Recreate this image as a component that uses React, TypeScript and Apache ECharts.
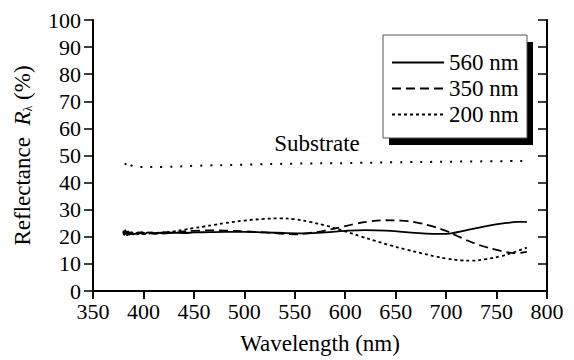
import React, { useEffect, useRef } from "react";
import * as echarts from "echarts";

const FONT = "'Liberation Serif', 'Times New Roman', 'DejaVu Serif', serif";

const xTicks = { min: 350, max: 800, interval: 50 };
const yTicks = { min: 0, max: 100, interval: 10 };

const wl560 = [380, 381, 382, 383, 384, 386, 388, 391, 395, 400, 405, 410, 415, 420, 430, 440, 450, 465, 480, 500, 520, 540, 560, 580, 600, 620, 640, 660, 680, 695, 705, 715, 730, 745, 760, 770, 780];
const r560 = [21.8, 20.6, 22.2, 20.9, 21.9, 20.8, 21.7, 21.0, 21.6, 21.0, 21.6, 21.1, 21.5, 21.2, 21.5, 21.4, 21.6, 21.7, 21.8, 21.8, 21.6, 21.4, 21.3, 21.6, 22.2, 22.5, 22.3, 21.7, 21.2, 21.1, 21.3, 22.0, 23.2, 24.3, 25.1, 25.5, 25.5];

const wl350 = [380, 381, 382, 383, 385, 387, 390, 394, 398, 403, 408, 413, 420, 430, 440, 450, 465, 480, 500, 520, 535, 550, 565, 580, 595, 610, 625, 640, 655, 670, 685, 700, 710, 720, 735, 750, 760, 770, 780];
const r350 = [22.3, 21.0, 22.5, 20.7, 22.0, 21.0, 21.8, 20.9, 21.7, 21.0, 21.6, 21.2, 21.7, 21.5, 22.0, 22.2, 22.4, 22.3, 22.0, 21.6, 21.2, 20.9, 21.4, 22.3, 23.5, 24.8, 25.7, 26.1, 26.0, 25.3, 24.0, 22.2, 20.5, 18.8, 16.7, 15.2, 14.3, 14.0, 14.4];

const wl200 = [380, 382, 384, 386, 390, 395, 400, 410, 420, 430, 440, 450, 460, 470, 480, 500, 520, 535, 550, 565, 580, 600, 615, 630, 645, 660, 675, 690, 700, 715, 725, 740, 755, 765, 780];
const r200 = [21.0, 21.8, 20.6, 21.5, 20.9, 21.4, 21.1, 21.3, 21.6, 22.0, 22.6, 23.2, 23.8, 24.4, 25.0, 26.0, 26.6, 26.8, 26.5, 25.5, 24.2, 22.0, 20.2, 18.5, 16.8, 15.3, 14.0, 12.7, 12.0, 11.3, 11.2, 11.8, 12.9, 14.0, 16.0];

const wlSub = [382, 384, 387, 395, 420, 450, 500, 550, 600, 650, 700, 780];
const rSub = [46.5, 48.0, 46.5, 45.8, 45.8, 46.2, 46.6, 47.0, 47.2, 47.5, 47.7, 48.0];

const legendNames = ["560 nm", "350 nm", "200 nm"];
const substrateLabel = "Substrate";
const substrateLabelAt = [572, 54.5];

const zip = (xs: number[], ys: number[]) => xs.map((x, i) => [x, ys[i]]);

export default function App() {
  const ref = useRef<HTMLDivElement>(null);
  useEffect(() => {
    if (!ref.current) return;
    document.body.style.margin = "0";
    const chart = echarts.init(ref.current, undefined, { renderer: "svg" });
    const axisLine = { show: true, lineStyle: { color: "#000", width: 2 } };
    const lbl = { color: "#000", fontFamily: FONT, fontSize: 23 };
    const tickLbl = { color: "#000", fontFamily: FONT, fontSize: 22, lineHeight: 16 };
    chart.setOption({
      animation: false,
      backgroundColor: "#fff",
      textStyle: { fontFamily: FONT },
      grid: { left: 93, right: 27, top: 20, bottom: 68, containLabel: false },
      xAxis: [
        {
          type: "value",
          position: "bottom",
          ...xTicks,
          name: "Wavelength (nm)",
          nameLocation: "middle",
          nameGap: 41,
          nameTextStyle: { ...lbl },
          axisLine,
          axisTick: { show: true, inside: false, length: 8, lineStyle: { color: "#000", width: 1.5 } },
          axisLabel: { ...tickLbl, margin: 12 },
          splitLine: { show: false },
        },
        {
          type: "value",
          position: "top",
          ...xTicks,
          axisLine,
          axisTick: { show: true, inside: true, length: 8, lineStyle: { color: "#000", width: 1.5 } },
          axisLabel: { show: false },
          splitLine: { show: false },
        },
      ],
      yAxis: [
        {
          type: "value",
          position: "left",
          ...yTicks,
          name: "Reflectance  {i|R}{s|λ} (%)",
          nameLocation: "middle",
          nameGap: 59,
          nameTextStyle: {
            ...lbl,
            rich: {
              i: { ...lbl, fontStyle: "italic" },
              s: { color: "#000", fontFamily: FONT, fontSize: 12, verticalAlign: "bottom" },
            },
          },
          axisLine,
          axisTick: { show: true, inside: false, length: 9, lineStyle: { color: "#000", width: 1.5 } },
          axisLabel: { ...tickLbl, margin: 12 },
          splitLine: { show: false },
        },
        {
          type: "value",
          position: "right",
          ...yTicks,
          axisLine,
          axisTick: { show: true, inside: true, length: 9, lineStyle: { color: "#000", width: 1.5 } },
          axisLabel: { show: false },
          splitLine: { show: false },
        },
      ],
      graphic: [
        { type: "rect", z: 5, shape: { x: 389, y: 42, width: 144, height: 103 }, style: { fill: "#000" } },
        { type: "rect", z: 6, shape: { x: 383, y: 35, width: 144, height: 103 }, style: { fill: "#fff", stroke: "#555", lineWidth: 1 } },
      ],
      legend: {
        orient: "vertical",
        left: 391,
        top: 51,
        z: 10,
        itemWidth: 52,
        itemHeight: 14,
        itemGap: 3,
        data: legendNames,
        itemStyle: { opacity: 0, color: "rgba(0,0,0,0)", borderWidth: 0 },
        textStyle: { ...lbl, lineHeight: 23 },
        padding: 0,
      },
      series: [
        {
          name: legendNames[0],
          type: "line",
          data: zip(wl560, r560),
          symbol: "none",
          smooth: 0.4,
          lineStyle: { color: "#000", width: 1.8, type: "solid" },
          itemStyle: { color: "#000" },
        },
        {
          name: legendNames[1],
          type: "line",
          data: zip(wl350, r350),
          symbol: "none",
          smooth: 0.4,
          lineStyle: { color: "#000", width: 1.8, type: [9, 5] },
          itemStyle: { color: "#000" },
        },
        {
          name: legendNames[2],
          type: "line",
          data: zip(wl200, r200),
          symbol: "none",
          smooth: 0.4,
          lineStyle: { color: "#000", width: 1.8, type: [3, 3] },
          itemStyle: { color: "#000" },
        },
        {
          name: substrateLabel,
          type: "line",
          data: zip(wlSub, rSub),
          symbol: "none",
          smooth: 0.4,
          lineStyle: { color: "#000", width: 2, type: [2, 8] },
          itemStyle: { color: "#000" },
          markPoint: {
            symbol: "circle",
            symbolSize: 0,
            data: [{ coord: substrateLabelAt }],
            label: { show: true, position: "inside", formatter: substrateLabel, ...lbl },
          },
        },
      ],
    });
    return () => chart.dispose();
  }, []);
  return <div ref={ref} style={{ width: 574, height: 360 }} />;
}
